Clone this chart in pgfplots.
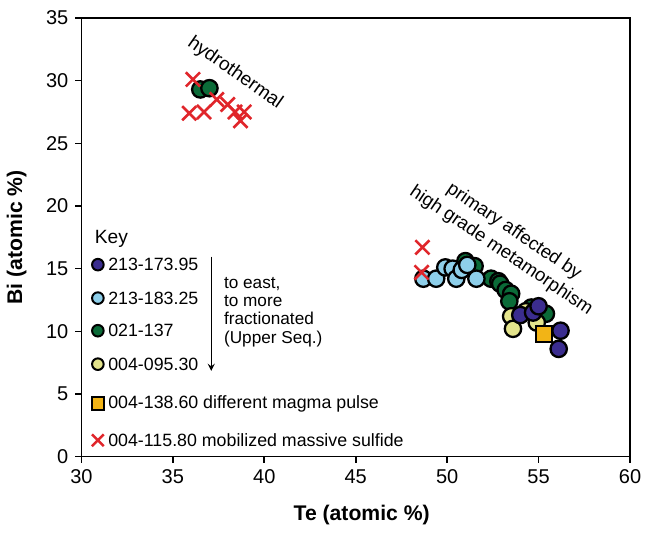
\documentclass[border=0pt]{standalone}
\usepackage{pgfplots}
\pgfplotsset{compat=1.18}
\usepackage{fontspec}
\setmainfont{Liberation Sans}

\definecolor{cdark}{HTML}{3B2D8F}
\definecolor{clight}{HTML}{8ECFEA}
\definecolor{cgreen}{HTML}{0B6B38}
\definecolor{cyell}{HTML}{E4E48C}
\definecolor{corange}{HTML}{F2B416}
\definecolor{cred}{HTML}{E0262B}

\pgfplotsset{
  dot/.style={only marks, mark=*, mark size=4.1pt,
    mark options={draw=black, line width=1.15pt, fill=#1}},
  sq/.style={only marks, mark=square*, mark size=4.1pt,
    mark options={draw=black, line width=1.1pt, fill=#1}},
  xx/.style={only marks, mark=x, mark size=5pt,
    mark options={draw=cred, line width=1.3pt}},
  keydot/.style={only marks, mark=*, mark size=2.9pt,
    mark options={draw=black, line width=1pt, fill=#1}},
  keysq/.style={only marks, mark=square*, mark size=3.1pt,
    mark options={draw=black, line width=1pt, fill=#1}},
  keyxx/.style={only marks, mark=x, mark size=4.2pt,
    mark options={draw=cred, line width=1.2pt}},
}

\begin{document}
\begin{tikzpicture}
\begin{axis}[
  scale only axis,
  width=274.5pt, height=219.5pt,
  xmin=30, xmax=60, ymin=0, ymax=35,
  xtick={30,35,...,60}, ytick={0,5,...,35},
  tick align=outside, tick pos=left,
  major tick length=3pt,
  axis line style={line width=0.8pt},
  every tick/.style={black, line width=0.8pt},
  ticklabel style={font=\fontsize{10}{12}\selectfont},
  /pgf/number format/assume math mode=true,
  xlabel={\bfseries Te (atomic \%)},
  ylabel={\bfseries Bi (atomic \%)},
  label style={font=\fontsize{10.6}{12}\selectfont},
  xlabel style={yshift=-4pt, xshift=3pt},
  ylabel style={yshift=3pt},
  clip=false,
]
% 021-137
\addplot[dot=cgreen] coordinates {
  (36.5,29.3) (37.0,29.4)
  (51.0,15.6) (51.5,15.2) (52.4,14.2) (52.8,14.0) (52.9,13.8)
  (53.2,13.3) (53.5,13.0) (53.4,12.4) (55.4,11.4) (54.6,11.9)
};
% 004-095.30
\addplot[dot=cyell] coordinates {
  (53.5,11.2) (53.6,10.2) (54.9,10.7) (54.3,11.6)
};
% 213-183.25
\addplot[dot=clight] coordinates {
  (48.7,14.2) (49.4,14.2) (49.9,15.1) (50.3,15.0) (50.5,14.2)
  (50.8,14.9) (51.1,15.3) (51.6,14.2)
};
% 213-173.95
\addplot[dot=cdark] coordinates {
  (54.0,11.3) (54.7,11.5) (55.0,12.0) (56.2,10.05) (56.1,8.6)
};
% 004-138.60
\addplot[sq=corange] coordinates {(55.3,9.8)};
% 004-115.80
\addplot[xx] coordinates {
  (36.1,30.1) (35.9,27.4) (36.7,27.5) (37.4,28.5) (38.0,28.1)
  (38.4,27.5) (38.7,26.8) (38.9,27.5)
  (48.65,16.7) (48.6,14.7)
};

% key symbols
\addplot[keydot=cdark] coordinates {(30.9,15.32)};
\addplot[keydot=clight] coordinates {(30.9,12.65)};
\addplot[keydot=cgreen] coordinates {(30.9,10.05)};
\addplot[keydot=cyell] coordinates {(30.9,7.38)};
\addplot[keysq=corange] coordinates {(30.9,4.25)};
\addplot[keyxx] coordinates {(30.9,1.31)};

\begin{scope}[font=\fontsize{8.9}{10.5}\selectfont]
  \node[anchor=west] at (axis cs:30.35,17.35) {\fontsize{9.6}{11}\selectfont Key};
  \node[anchor=west, inner sep=0pt] at (axis cs:31.45,15.32) {213-173.95};
  \node[anchor=west, inner sep=0pt] at (axis cs:31.45,12.65) {213-183.25};
  \node[anchor=west, inner sep=0pt] at (axis cs:31.45,10.05) {021-137};
  \node[anchor=west, inner sep=0pt] at (axis cs:31.45,7.38) {004-095.30};
  \node[anchor=west, inner sep=0pt] at (axis cs:31.45,4.25) {004-138.60 different magma pulse};
  \node[anchor=west, inner sep=0pt] at (axis cs:31.45,1.31) {004-115.80 mobilized massive sulfide};
  \node[anchor=west, align=left, inner sep=0pt, font=\fontsize{8.6}{9.2}\selectfont]
    at (axis cs:37.78,11.55) {to east,\\to more\\fractionated\\(Upper Seq.)};
  \draw[->, line width=0.6pt, >=stealth] (axis cs:37.1,15.96) -- (axis cs:37.1,6.84);
  \node[rotate=-35, font=\fontsize{9.5}{11}\selectfont] at (axis cs:38.4,30.6) {hydrothermal};
  \node[rotate=-34, align=center, font=\fontsize{9.3}{11.5}\selectfont]
    at (axis cs:53.3,17.2) {primary affected by\\high grade metamorphism};
\end{scope}
\end{axis}
\path (-40.5pt,-33.5pt) (287.5pt,228.5pt);
\end{tikzpicture}
\end{document}
